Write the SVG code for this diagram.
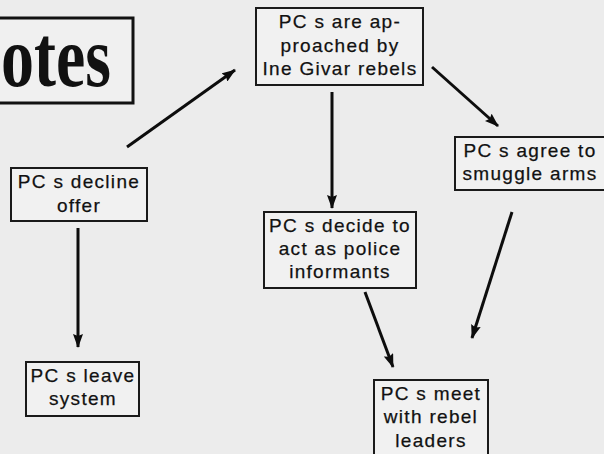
<svg xmlns="http://www.w3.org/2000/svg" width="604" height="454" viewBox="0 0 604 454">
  <defs>
    <marker id="ah" viewBox="0 0 14 10" refX="13" refY="5" markerWidth="14" markerHeight="10" markerUnits="userSpaceOnUse" orient="auto">
      <path d="M0,0 L14,5 L0,10 L2,5 Z" fill="#0d0d0d"/>
    </marker>
    <style>
      .box { fill: #f1f1f1; stroke: #1a1a1a; stroke-width: 2; }
      .lbl { font-family: "Liberation Sans", Arial, sans-serif; font-size: 19px; letter-spacing: 1.3px; fill: #111; stroke: #111; stroke-width: 0.25; text-anchor: middle; }
      .con { stroke: #0d0d0d; stroke-width: 3; fill: none; marker-end: url(#ah); }
    </style>
  </defs>
  <rect width="604" height="454" fill="#ececec"/>

  <g id="title">
    <rect x="-5" y="18" width="138" height="85" fill="#f0f0f0" stroke="#111" stroke-width="3"/>
    <text x="1" y="86" font-family="'Liberation Serif', 'Times New Roman', serif" font-weight="bold" font-size="86" fill="#111" textLength="110" lengthAdjust="spacingAndGlyphs">otes</text>
  </g>

  <g id="connectors">
    <line class="con" x1="127" y1="147" x2="235" y2="70"/>
    <line class="con" x1="432" y1="67" x2="498" y2="126"/>
    <line class="con" x1="332" y1="92" x2="332" y2="208"/>
    <line class="con" x1="78" y1="228" x2="78" y2="347"/>
    <line class="con" x1="365" y1="292" x2="393" y2="367"/>
    <line class="con" x1="512" y1="212" x2="472" y2="338"/>
  </g>

  <g id="approached">
    <rect class="box" x="256" y="8" width="167" height="77"/>
    <text class="lbl" x="340" y="28">PC s are ap-</text>
    <text class="lbl" x="340" y="52">proached by</text>
    <text class="lbl" x="340" y="75">Ine Givar rebels</text>
  </g>

  <g id="agree">
    <rect class="box" x="455" y="137" width="150" height="53"/>
    <text class="lbl" x="530" y="157">PC s agree to</text>
    <text class="lbl" x="530" y="180">smuggle arms</text>
  </g>

  <g id="decline">
    <rect class="box" x="11" y="168" width="136" height="53"/>
    <text class="lbl" x="79" y="188">PC s decline</text>
    <text class="lbl" x="79" y="212">offer</text>
  </g>

  <g id="informants">
    <rect class="box" x="264" y="212" width="152" height="76"/>
    <text class="lbl" x="340" y="232">PC s decide to</text>
    <text class="lbl" x="340" y="255">act as police</text>
    <text class="lbl" x="340" y="278">informants</text>
  </g>

  <g id="leave">
    <rect class="box" x="26" y="362" width="113" height="54"/>
    <text class="lbl" x="83" y="382">PC s leave</text>
    <text class="lbl" x="83" y="405">system</text>
  </g>

  <g id="meet">
    <rect class="box" x="374" y="380" width="114" height="90"/>
    <text class="lbl" x="431" y="400">PC s meet</text>
    <text class="lbl" x="431" y="423">with rebel</text>
    <text class="lbl" x="431" y="447">leaders</text>
  </g>
</svg>
